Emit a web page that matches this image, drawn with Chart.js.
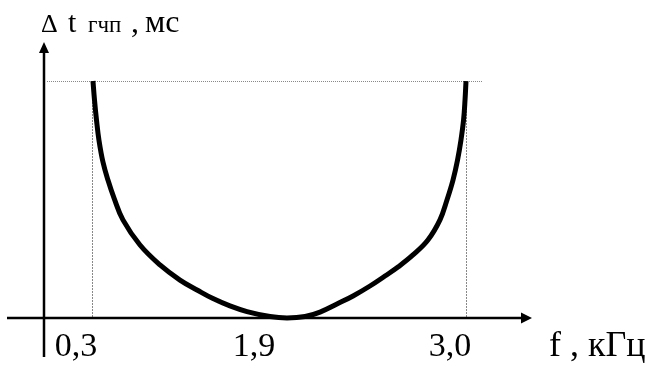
<!DOCTYPE html>
<html>
<head>
<meta charset="utf-8">
<script src="https://cdn.jsdelivr.net/npm/chart.js@4.4.1/dist/chart.umd.min.js"></script>
<style>
  html, body { margin: 0; padding: 0; background: #fff; }
  canvas { display: block; }
</style>
</head>
<body>
<canvas id="plot" width="651" height="365"></canvas>
<script>
// ticks on the frequency axis, kHz
const xTicks = [0.3, 1.9, 3.0]
const xTickLabels = ['0,3', '1,9', '3,0']

// delay curve: frequency (kHz) and normalised delay (top dotted level = 1)
const freq = [0.308, 0.3205, 0.337, 0.357, 0.390, 0.431, 0.481, 0.554, 0.694, 0.858, 1.022, 1.170, 1.293, 1.432, 1.572, 1.761, 1.900,
  2.011, 2.103, 2.207, 2.306, 2.410, 2.502, 2.582, 2.674, 2.766, 2.840, 2.883, 2.920, 2.948, 2.969, 2.985, 2.994, 3.000]
const delay = [1.000, 0.920, 0.835, 0.751, 0.658, 0.582, 0.506, 0.414, 0.308, 0.224, 0.160, 0.116, 0.082, 0.051, 0.027, 0.006, 0.000,
  0.006, 0.025, 0.059, 0.093, 0.135, 0.177, 0.215, 0.266, 0.329, 0.414, 0.498, 0.582, 0.667, 0.751, 0.835, 0.920, 1.000]

const topLevel = 1

// the sketch is not to scale: the frequency axis is piecewise linear between these marks
const xBreaks = [0, 0.3, 1.9, 3.0]
const xBreakPos = [0.0705, 0.1619, 0.5333, 0.8743]

function breakFraction(v) {
  let i = 0
  while (i < xBreaks.length - 2 && v > xBreaks[i + 1]) i++
  const t = (v - xBreaks[i]) / (xBreaks[i + 1] - xBreaks[i])
  return xBreakPos[i] + t * (xBreakPos[i + 1] - xBreakPos[i])
}

class SchematicScale extends Chart.LinearScale {
  getPixelForValue(value) {
    const area = this.chart.chartArea
    return area.left + breakFraction(value) * (area.right - area.left)
  }
}
SchematicScale.id = 'schematic'
SchematicScale.defaults = Chart.LinearScale.defaults
Chart.register(SchematicScale)

const serif = '"Liberation Serif", "Times New Roman", serif'

function arrow(ctx, x, y, dir) {
  // dir: 'right' or 'up'
  ctx.beginPath()
  if (dir === 'right') {
    ctx.moveTo(x, y)
    ctx.lineTo(x - 11, y - 5.5)
    ctx.lineTo(x - 11, y + 5.5)
  } else {
    ctx.moveTo(x, y)
    ctx.lineTo(x - 5, y + 11)
    ctx.lineTo(x + 5, y + 11)
  }
  ctx.closePath()
  ctx.fill()
}

const sketchAxes = {
  id: 'sketchAxes',
  beforeDatasetsDraw(chart) {
    const { ctx, chartArea } = chart
    const xs = chart.scales.x
    const ys = chart.scales.y
    const y0 = Math.round(ys.getPixelForValue(0))
    const yTop = Math.round(ys.getPixelForValue(topLevel)) + 0.5
    const x0 = Math.round(xs.getPixelForValue(0))

    ctx.save()
    // dotted helper lines
    ctx.lineWidth = 1
    ctx.setLineDash([1, 1])
    ctx.strokeStyle = '#888'
    ctx.beginPath()
    ctx.moveTo(x0 + 3, yTop)
    ctx.lineTo(xs.getPixelForValue(xTicks[2]) + 17, yTop)
    ctx.stroke()

    ctx.strokeStyle = '#111'
    ctx.setLineDash([1, 2])
    for (const v of [xTicks[0], xTicks[2]]) {
      const px = Math.round(xs.getPixelForValue(v)) + 0.5
      ctx.beginPath()
      ctx.moveTo(px, yTop)
      ctx.lineTo(px, y0)
      ctx.stroke()
    }
    ctx.setLineDash([])

    // axes with arrows
    ctx.strokeStyle = '#000'
    ctx.fillStyle = '#000'
    ctx.lineWidth = 2.5
    ctx.beginPath()
    ctx.moveTo(chartArea.left, y0)
    ctx.lineTo(chartArea.right - 4, y0)
    ctx.moveTo(x0, chartArea.bottom)
    ctx.lineTo(x0, chartArea.top + 4)
    ctx.stroke()
    arrow(ctx, chartArea.right, y0, 'right')
    arrow(ctx, x0, chartArea.top, 'up')
    ctx.restore()
  },
  afterDatasetsDraw(chart) {
    const { ctx } = chart
    const xs = chart.scales.x
    ctx.save()
    ctx.fillStyle = '#000'
    ctx.textBaseline = 'alphabetic'

    // tick labels sit a little left of their marks
    const shift = [-16, -33, -16]
    ctx.font = '34px ' + serif
    ctx.textAlign = 'center'
    xTicks.forEach((v, i) => {
      ctx.fillText(xTickLabels[i], xs.getPixelForValue(v) + shift[i], 356)
    })
    ctx.textAlign = 'left'
    ctx.font = '36px ' + serif
    ctx.fillText('f , кГц', 549, 356)

    // y axis title with subscript
    ctx.font = '26px ' + serif
    ctx.fillText('Δ', 41, 32)
    ctx.font = '30px ' + serif
    ctx.fillText('t', 68, 32)
    ctx.font = '23px ' + serif
    ctx.fillText('гчп', 88, 32)
    ctx.font = '32px ' + serif
    ctx.fillText(',', 131, 32)
    ctx.fillText('мс', 145, 32)
    ctx.restore()
  },
}

new Chart(document.getElementById('plot'), {
  type: 'line',
  data: {
    datasets: [{
      data: freq.map((f, i) => ({ x: f, y: delay[i] })),
      borderColor: '#000',
      borderWidth: 5,
      borderCapStyle: 'butt',
      pointRadius: 0,
      tension: 0.4,
      fill: false,
    }],
  },
  options: {
    responsive: false,
    animation: false,
    devicePixelRatio: 1,
    layout: { padding: { left: 7, right: 119, top: 42, bottom: 8 } },
    plugins: {
      legend: { display: false },
      tooltip: { enabled: false },
    },
    scales: {
      x: { type: 'schematic', min: -0.3, max: 3.5, display: false },
      y: { type: 'linear', min: -0.1646, max: 1.1646, display: false },
    },
  },
  plugins: [sketchAxes],
})
</script>
</body>
</html>
